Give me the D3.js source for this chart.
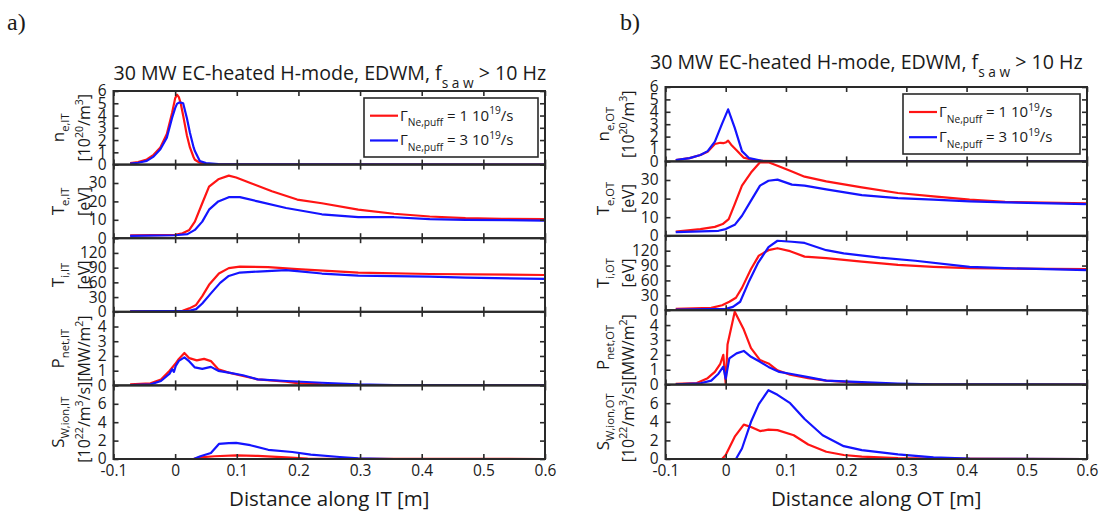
<!DOCTYPE html>
<html><head><meta charset="utf-8">
<script src="https://cdn.jsdelivr.net/npm/d3@7"></script>
<style>
body{margin:0;background:#fff}
svg{display:block}
text{font-family:"Open Sans",sans-serif;fill:#1a1a1a}
</style>
</head><body>
<svg id="c" width="1099" height="517"></svg>
<script>
// ---------- data ----------
const xTicks = [-0.1, 0, 0.1, 0.2, 0.3, 0.4, 0.5, 0.6];
const xTickLabels = ["-0.1", "0", "0.1", "0.2", "0.3", "0.4", "0.5", "0.6"];
const neTicks = [0, 1, 2, 3, 4, 5, 6];
const teTicks = [0, 10, 20, 30];
const tiTicks = [0, 30, 60, 90, 120];
const pTicks = [0, 1, 2, 3, 4];
const sTicks = [0, 2, 4, 6];
const yMax = [6, 40, 150, 5, 8];
const seriesNames = ["1", "3"];

// IT (inner target)
const itNeX = [-0.073,-0.06,-0.046,-0.035,-0.024,-0.0135,-0.005,0,0.003,0.006,0.009,0.013,0.019,0.024,0.03,0.032,0.04,0.05,0.07,0.1,0.6];
const itNeRed = [0.12,0.2,0.42,0.8,1.4,2.5,4.2,5.4,5.7,5.5,5.0,4.0,2.4,1.4,0.6,0.4,0.15,0.06,0.03,0.02,0];
const itNeBlue = [0.08,0.15,0.3,0.65,1.25,2.2,3.8,4.6,4.95,5.05,5.05,5.0,3.8,2.6,1.4,1.1,0.3,0.12,0.05,0.02,0];

const itTeRedX = [-0.073,0,0.012,0.023,0.032,0.044,0.055,0.07,0.087,0.099,0.122,0.157,0.198,0.238,0.297,0.355,0.413,0.471,0.53,0.6];
const itTeRedY = [1.5,1.8,2.7,4.5,9,19,28,32,34,33,30,25.5,21,19,15.5,13.3,11.8,10.9,10.5,10.4];
const itTeBlueX = [-0.073,0,0.02,0.032,0.044,0.055,0.07,0.087,0.105,0.134,0.18,0.238,0.297,0.355,0.413,0.471,0.6];
const itTeBlueY = [1.3,1.6,2.2,4.5,9,15.5,20,22.3,22.3,20,16.4,13,11.5,11.4,10.4,10,9.6];

const itTiRedX = [-0.073,0,0.012,0.023,0.034,0.044,0.055,0.071,0.087,0.105,0.151,0.198,0.297,0.413,0.6];
const itTiRedY = [1,1,2,7,14,32,55,78,89,92,91,87,80,77,75];
const itTiBlueX = [-0.073,0.023,0.034,0.044,0.058,0.073,0.087,0.105,0.134,0.18,0.198,0.238,0.297,0.413,0.471,0.6];
const itTiBlueY = [1,2,5.5,17,37.5,59,73,80,82,85,83,78,73.6,71.6,69.5,67];

const itPRedX = [-0.073,-0.04,-0.023,-0.009,0,0.006,0.015,0.023,0.035,0.047,0.058,0.07,0.087,0.11,0.134,0.18,0.198,0.238,0.297,0.6];
const itPRedY = [0.07,0.14,0.4,1.0,1.45,1.8,2.2,1.85,1.7,1.8,1.65,1.1,0.87,0.64,0.41,0.25,0.16,0.07,0.02,0];
const itPBlueX = [-0.073,-0.04,-0.023,-0.009,-0.005,-0.002,0.001,0.006,0.015,0.023,0.032,0.044,0.058,0.07,0.087,0.11,0.134,0.18,0.238,0.297,0.355,0.6];
const itPBlueY = [0.02,0.07,0.3,0.8,1.1,0.92,1.33,1.67,1.9,1.63,1.22,1.12,1.26,0.99,0.87,0.69,0.41,0.3,0.18,0.07,0.02,0];

const itSRedX = [-0.073,0.03,0.04,0.064,0.099,0.134,0.18,0.215,0.6];
const itSRedY = [0,0,0.18,0.3,0.4,0.33,0.18,0.04,0];
const itSBlueX = [-0.073,0.03,0.041,0.058,0.071,0.087,0.099,0.122,0.151,0.19,0.22,0.267,0.297,0.355,0.6];
const itSBlueY = [0,0,0.3,0.65,1.64,1.72,1.75,1.5,1.0,0.76,0.47,0.22,0.07,0,0];

// OT (outer target)
const otNeBlueX = [-0.083,-0.06,-0.042,-0.03,-0.018,-0.006,0.004,0.015,0.027,0.039,0.06,0.1,0.6];
const otNeBlueY = [0.1,0.26,0.52,0.83,1.6,3.05,4.2,2.7,0.83,0.26,0.05,0.01,0];
const otNeRedX = [-0.083,-0.06,-0.042,-0.03,-0.018,-0.009,-0.003,0.001,0.004,0.009,0.018,0.03,0.042,0.06,0.1,0.6];
const otNeRedY = [0.1,0.26,0.52,0.78,1.4,1.5,1.48,1.55,1.67,1.35,0.9,0.3,0.15,0.05,0.01,0];

const otTeRedX = [-0.083,-0.042,-0.018,-0.005,0.005,0.015,0.027,0.042,0.057,0.071,0.086,0.107,0.131,0.167,0.226,0.286,0.345,0.405,0.464,0.6];
const otTeRedY = [2.3,3.6,4.8,6.3,9,17,27,34,39.5,39.5,37.7,35,31.8,29.3,26,23,21.2,19.4,18.3,17.4];
const otTeBlueX = [-0.083,-0.012,0,0.015,0.027,0.042,0.057,0.071,0.086,0.11,0.131,0.167,0.226,0.286,0.345,0.405,0.464,0.6];
const otTeBlueY = [2,2.7,3.6,5.9,10.8,18.9,27,29.6,30.2,27.5,27,25,21.9,20.3,19.4,18.5,18,17];

const otTiRedX = [-0.083,-0.024,-0.006,0.006,0.017,0.027,0.042,0.055,0.071,0.086,0.107,0.131,0.167,0.226,0.286,0.345,0.405,0.6];
const otTiRedY = [2.7,4.7,10,17,25,45,83,110,121,125,119,108,105,98,91.5,87.5,84.7,82.7];
const otTiBlueX = [-0.083,0,0.012,0.024,0.039,0.054,0.071,0.086,0.11,0.131,0.167,0.196,0.256,0.315,0.405,0.464,0.6];
const otTiBlueY = [1,2.7,6.8,17,59,96,127,140,138,135.6,121,114.6,106,99.7,87.5,84.7,80.7];

const otPRedX = [-0.083,-0.048,-0.03,-0.018,-0.009,-0.004,0,0.003,0.015,0.03,0.042,0.057,0.071,0.086,0.107,0.137,0.167,0.226,0.286,0.6];
const otPRedY = [0.05,0.1,0.43,0.85,1.4,2.0,0.05,2.7,4.9,3.7,2.45,1.65,1.42,0.96,0.66,0.43,0.27,0.11,0.02,0];
const otPBlueX = [-0.083,-0.042,-0.024,-0.012,-0.004,0,0.006,0.018,0.03,0.042,0.057,0.071,0.089,0.107,0.137,0.167,0.226,0.286,0.345,0.6];
const otPBlueY = [0.02,0.09,0.27,0.73,1.2,0.39,1.76,2.1,2.26,1.87,1.53,1.19,0.85,0.73,0.5,0.27,0.16,0.07,0.02,0];

const otSRedX = [-0.083,-0.006,0,0.015,0.03,0.042,0.057,0.071,0.086,0.113,0.137,0.167,0.196,0.226,0.286,0.345,0.6];
const otSRedY = [0,0,0.43,2.4,3.7,3.44,3.0,3.15,3.1,2.55,1.56,0.78,0.43,0.25,0.1,0.04,0];
const otSBlueX = [-0.083,0.017,0.027,0.042,0.055,0.071,0.086,0.107,0.131,0.161,0.196,0.226,0.286,0.345,0.405,0.6];
const otSBlueY = [0,0,1.13,4.0,5.9,7.4,6.9,6.0,4.3,2.55,1.38,0.96,0.5,0.18,0.04,0];

// ---------- drawing ----------
const RED = "#ff1414", BLUE = "#1414ff", AX = "#2a2a2a";
const svg = d3.select("#c");

function rich(g, parts, fs, subK = 0.38, supK = 0.42, smallK = 0.68) {
  const t = g.append("text").attr("font-size", fs);
  let cur = 0;
  parts.forEach(([s, mode]) => {
    const target = mode === "sub" ? fs * subK : mode === "sup" ? -fs * supK : 0;
    t.append("tspan").text(s)
      .attr("dy", (target - cur).toFixed(2))
      .attr("font-size", mode === "n" ? fs : fs * smallK);
    cur = target;
  });
  return t;
}

function unitsLabels(tag) {
  return [
    [[["n","n"],["e," + tag,"sub"]], [["[10","n"],["20","sup"],["/m","n"],["3","sup"],["]","n"]]],
    [[["T","n"],["e," + tag,"sub"]], [["[eV]","n"]]],
    [[["T","n"],["i," + tag,"sub"]], [["[eV]","n"]]],
    [[["P","n"],["net," + tag,"sub"]], [["[MW/m","n"],["2","sup"],["]","n"]]],
    [[["S","n"],["W,ion," + tag,"sub"]], [["[10","n"],["22","sup"],["/m","n"],["3","sup"],["/s]","n"]]]
  ];
}

function drawSide(cfg) {
  const g = svg.append("g");
  const x = d3.scaleLinear().domain([-0.1, 0.6]).range([cfg.x0, cfg.x1]);
  const ph = (cfg.y1 - cfg.y0) / 5;
  const tickSets = [neTicks, teTicks, tiTicks, pTicks, sTicks];
  const labels = unitsLabels(cfg.tag);

  cfg.series.forEach((pair, i) => {
    const top = cfg.y0 + i * ph, bot = top + ph;
    const y = d3.scaleLinear().domain([0, yMax[i]]).range([bot, top]);
    const cid = "clip" + cfg.tag + i;
    g.append("clipPath").attr("id", cid).append("rect")
      .attr("x", cfg.x0).attr("y", top - 1).attr("width", cfg.x1 - cfg.x0).attr("height", ph + 1);
    const line = d3.line().x(d => x(d[0])).y(d => y(d[1]));
    const pg = g.append("g").attr("clip-path", `url(#${cid})`);
    [[pair.red, RED], [pair.blue, BLUE]].forEach(([xy, col]) => {
      const pts = xy[0].map((v, k) => [v, xy[1][k]]);
      pg.append("path").attr("d", line(pts)).attr("fill", "none")
        .attr("stroke", col).attr("stroke-width", 2.2).attr("stroke-linejoin", "round");
    });
    const ticks = tickSets[i];
    const la = g.append("g").attr("transform", `translate(${cfg.x0},0)`)
      .call(d3.axisLeft(y).tickValues(ticks).tickSize(-5).tickPadding(7).tickFormat(d3.format("d")));
    const ra = g.append("g").attr("transform", `translate(${cfg.x1},0)`)
      .call(d3.axisRight(y).tickValues(ticks).tickSize(-5).tickFormat(""));
    const ta = g.append("g").attr("transform", `translate(0,${top})`)
      .call(d3.axisTop(x).tickValues(xTicks).tickSize(-5).tickFormat(""));
    const ba = g.append("g").attr("transform", `translate(0,${bot})`)
      .call(d3.axisBottom(x).tickValues(xTicks).tickSize(-5)
        .tickFormat(i === 4 ? (d, k) => xTickLabels[k] : ""));
    [la, ra, ta, ba].forEach(a => {
      a.select(".domain").remove();
      a.selectAll("line").attr("stroke", AX).attr("stroke-width", 1.6);
      a.selectAll("text").attr("font-size", 15.5).attr("fill", "#1a1a1a")
        .attr("font-family", "Open Sans, sans-serif");
    });
    ba.selectAll("text").attr("dy", "0.95em").attr("y", 2);
    g.append("rect").attr("x", cfg.x0).attr("y", top).attr("width", cfg.x1 - cfg.x0)
      .attr("height", ph).attr("fill", "none").attr("stroke", AX).attr("stroke-width", 2);
    const cy = (top + bot) / 2;
    rich(g, labels[i][0], 17, 0.3, 0.42, 0.66).attr("text-anchor", "middle")
      .attr("transform", `translate(${cfg.lx1},${cy}) rotate(-90)`);
    rich(g, labels[i][1], 16, 0.3, 0.42, 0.66).attr("text-anchor", "middle")
      .attr("transform", `translate(${cfg.lx2},${cy}) rotate(-90)`);
  });

  // title
  rich(g, [["30 MW EC-heated H-mode, EDWM, f","n"],["s a w","sub"],[" > 10 Hz","n"]], 19.6, 0.4, 0.42, 0.7)
    .attr("x", cfg.tx).attr("y", cfg.ty);
  // x label
  g.append("text").attr("x", (cfg.x0 + cfg.x1) / 2).attr("y", cfg.xly)
    .attr("text-anchor", "middle").attr("font-size", 20.5).text(cfg.xlabel);
  // panel letter
  g.append("text").attr("x", cfg.letterX).attr("y", 30).attr("font-size", 24)
    .style("font-family", "Liberation Serif, serif").text(cfg.letter);

  // legend
  const lg = g.append("g");
  lg.append("rect").attr("x", cfg.lgX).attr("y", cfg.lgY).attr("width", cfg.lgW).attr("height", cfg.lgH)
    .attr("fill", "#fff").attr("stroke", AX).attr("stroke-width", 1.6);
  [RED, BLUE].forEach((col, k) => {
    const yy = cfg.lgY + cfg.lgH * (k === 0 ? 0.3 : 0.72);
    lg.append("line").attr("x1", cfg.lgX + 6).attr("x2", cfg.lgX + 34).attr("y1", yy).attr("y2", yy)
      .attr("stroke", col).attr("stroke-width", 2.2);
    rich(lg, [["Γ","n"],["Ne,puff","sub"],[" = " + seriesNames[k] + " 10","n"],["19","sup"],["/s","n"]], 15)
      .attr("x", cfg.lgX + 36).attr("y", yy + 5);
  });
}

drawSide({
  tag: "IT", x0: 113.5, x1: 545, y0: 91, y1: 459, lx1: 64, lx2: 90, tx: 113.5, ty: 80,
  xly: 506, xlabel: "Distance along IT [m]", letter: "a)", letterX: 7,
  lgX: 364, lgY: 98, lgW: 174, lgH: 59,
  series: [
    {red: [itNeX, itNeRed], blue: [itNeX, itNeBlue]},
    {red: [itTeRedX, itTeRedY], blue: [itTeBlueX, itTeBlueY]},
    {red: [itTiRedX, itTiRedY], blue: [itTiBlueX, itTiBlueY]},
    {red: [itPRedX, itPRedY], blue: [itPBlueX, itPBlueY]},
    {red: [itSRedX, itSRedY], blue: [itSBlueX, itSBlueY]}
  ]
});
drawSide({
  tag: "OT", x0: 665.5, x1: 1087, y0: 87, y1: 459, lx1: 609, lx2: 634, tx: 650, ty: 69,
  xly: 506, xlabel: "Distance along OT [m]", letter: "b)", letterX: 620,
  lgX: 903, lgY: 94, lgW: 177, lgH: 60,
  series: [
    {red: [otNeRedX, otNeRedY], blue: [otNeBlueX, otNeBlueY]},
    {red: [otTeRedX, otTeRedY], blue: [otTeBlueX, otTeBlueY]},
    {red: [otTiRedX, otTiRedY], blue: [otTiBlueX, otTiBlueY]},
    {red: [otPRedX, otPRedY], blue: [otPBlueX, otPBlueY]},
    {red: [otSRedX, otSRedY], blue: [otSBlueX, otSBlueY]}
  ]
});
</script>
</body></html>
